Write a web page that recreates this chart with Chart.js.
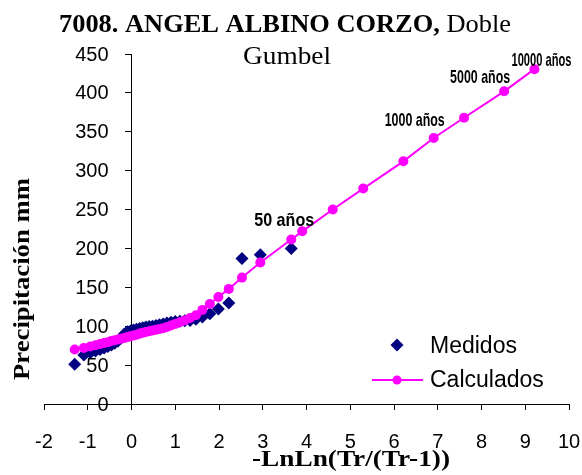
<!DOCTYPE html>
<html><head><meta charset="utf-8">
<script src="https://cdn.jsdelivr.net/npm/chart.js@4"></script>
<style>html,body{margin:0;padding:0;background:#fff;}canvas{display:block}</style>
</head><body>
<canvas id="c" width="582" height="475"></canvas>
<script>
// ---- text ----
const titleBold = '7008. ANGEL ALBINO CORZO,';
const titleRegular = ' Doble';
const titleLine2 = 'Gumbel';
const xAxisTitle = '-LnLn(Tr/(Tr-1))';
const yAxisTitle = 'Precipitación mm';
const seriesNames = ['Medidos', 'Calculados'];

// ---- ticks ----
const xTickValues = [-2, -1, 0, 1, 2, 3, 4, 5, 6, 7, 8, 9, 10];
const yTickValues = [0, 50, 100, 150, 200, 250, 300, 350, 400, 450];

// ---- measured series (reduced variate, precipitation mm) ----
const xMeasured = [-1.298, -1.089, -0.942, -0.823, -0.720, -0.627, -0.541, -0.460, -0.383, -0.308,
  -0.236, -0.164, -0.094, -0.024, 0.046, 0.115, 0.186, 0.257, 0.330, 0.404,
  0.480, 0.558, 0.639, 0.723, 0.810, 0.903, 1.000, 1.105, 1.217, 1.338,
  1.472, 1.620, 1.790, 1.986, 2.224, 2.525, 2.944, 3.651];
const yMeasured = [51, 63, 66, 68, 70, 72, 74, 76, 78, 81,
  85, 90, 93, 94, 95, 96, 97, 98, 99, 99.5,
  100, 101, 102, 103, 104, 105, 106, 106.5, 107, 107.5,
  109, 112, 116, 122, 130, 187, 192, 200];

// ---- calculated series ----
const xCalculated = [-1.298, -1.089, -0.942, -0.823, -0.720, -0.627, -0.541, -0.460, -0.383, -0.308,
  -0.236, -0.164, -0.094, -0.024, 0.046, 0.115, 0.186, 0.257, 0.330, 0.404,
  0.480, 0.558, 0.639, 0.723, 0.810, 0.903, 1.000, 1.105, 1.217, 1.338,
  1.472, 1.620, 1.790, 1.986, 2.224, 2.525, 2.944, 3.651,
  3.902, 4.600, 5.296, 6.214, 6.907, 7.601, 8.517, 9.210];
const yCalculated = [70, 72, 74, 75.5, 77, 78.5, 79.5, 81, 82, 83,
  84, 85, 86, 87, 88, 89, 90.5, 91.5, 92.5, 93.5,
  94.5, 95.5, 96.5, 97.5, 99, 101, 103, 105, 107.5, 110.5,
  114, 121, 128.5, 137.5, 148, 162.5, 182, 211.5,
  222, 250, 277, 312, 342, 368, 402, 430.5];

// ---- return period annotations ----
const returnPeriodText = ['50 años', '1000 años', '5000 años', '10000 años'];
const returnPeriodX = [3.902, 6.907, 8.517, 9.210];

// ---------------------------------------------------------------
const NAVY = '#000080', MAGENTA = '#FF00FF';
const labelOffsets = [[-18, -11], [-19, -17], [-24, -13.5], [7, -8.5]];

function fitText(ctx, text, x, y, font, width, align, baseline, rot) {
  ctx.save();
  ctx.font = font;
  const w = ctx.measureText(text).width;
  ctx.translate(x, y);
  if (rot) ctx.rotate(rot);
  ctx.scale(width / w, 1);
  ctx.textAlign = align;
  ctx.textBaseline = baseline;
  ctx.fillStyle = '#000';
  ctx.fillText(text, 0, 0);
  ctx.restore();
}

const decor = {
  id: 'decor',
  afterDraw(chart) {
    const ctx = chart.ctx;
    const xs = chart.scales.x, ys = chart.scales.y;
    // title
    ctx.save();
    ctx.font = 'bold 26px "Liberation Serif"';
    const wb = ctx.measureText(titleBold).width;
    ctx.font = '26px "Liberation Serif"';
    const wr = ctx.measureText(titleRegular).width;
    const s = 452 / (wb + wr);
    ctx.translate(59, 32);
    ctx.scale(s, 1);
    ctx.fillStyle = '#000';
    ctx.textAlign = 'left';
    ctx.textBaseline = 'alphabetic';
    ctx.font = 'bold 26px "Liberation Serif"';
    ctx.fillText(titleBold, 0, 0);
    ctx.font = '26px "Liberation Serif"';
    ctx.fillText(titleRegular, wb, 0);
    ctx.restore();
    fitText(ctx, titleLine2, 287, 64, '26px "Liberation Serif"', 88, 'center', 'alphabetic');

    // axis titles
    fitText(ctx, yAxisTitle, 23, 279, 'bold 23px "Liberation Serif"', 202, 'center', 'middle', -Math.PI / 2);
    fitText(ctx, xAxisTitle, 351, 460, 'bold 23px "Liberation Serif"', 198, 'center', 'middle');

    // tick labels
    ctx.save();
    ctx.font = '20px "Liberation Sans"';
    ctx.fillStyle = '#000';
    ctx.textBaseline = 'middle';
    ctx.textAlign = 'right';
    const ax = xs.getPixelForValue(0);
    yTickValues.forEach(v => ctx.fillText(String(v), ax - 23, ys.getPixelForValue(v) + 1));
    ctx.textAlign = 'center';
    const ay = ys.getPixelForValue(0);
    xTickValues.forEach(v => ctx.fillText(String(v), xs.getPixelForValue(v), ay + 38));
    ctx.restore();

    // return period labels
    returnPeriodText.forEach((t, i) => {
      const idx = xCalculated.indexOf(returnPeriodX[i]);
      const px = xs.getPixelForValue(xCalculated[idx]);
      const py = ys.getPixelForValue(yCalculated[idx]);
      fitText(ctx, t, px + labelOffsets[i][0], py + labelOffsets[i][1], 'bold 19px "Liberation Sans"', 60, 'center', 'middle');
    });

    // legend
    ctx.save();
    ctx.fillStyle = NAVY;
    ctx.beginPath();
    ctx.moveTo(397, 338.5); ctx.lineTo(403.5, 345); ctx.lineTo(397, 351.5); ctx.lineTo(390.5, 345);
    ctx.closePath(); ctx.fill();
    ctx.strokeStyle = MAGENTA; ctx.lineWidth = 2;
    ctx.beginPath(); ctx.moveTo(372, 380); ctx.lineTo(423, 380); ctx.stroke();
    ctx.fillStyle = MAGENTA;
    ctx.beginPath(); ctx.arc(397, 380, 4.5, 0, Math.PI * 2); ctx.fill();
    ctx.fillStyle = '#000';
    ctx.font = '23px "Liberation Sans"';
    ctx.textAlign = 'left'; ctx.textBaseline = 'alphabetic';
    ctx.fillText(seriesNames[0], 430, 353);
    ctx.fillText(seriesNames[1], 430, 387);
    ctx.restore();
  }
};

const ticksFrom = arr => scale => { scale.ticks = arr.map(v => ({ value: v })); };

new Chart(document.getElementById('c'), {
  type: 'scatter',
  data: {
    datasets: [
      {
        label: seriesNames[1],
        data: xCalculated.map((x, i) => ({ x, y: yCalculated[i] })),
        showLine: true,
        borderColor: MAGENTA,
        backgroundColor: MAGENTA,
        borderWidth: 2,
        pointStyle: 'circle',
        pointRadius: 5,
        pointBorderWidth: 0,
        tension: 0,
        order: 0,
        clip: false
      },
      {
        label: seriesNames[0],
        data: xMeasured.map((x, i) => ({ x, y: yMeasured[i] })),
        showLine: false,
        borderColor: NAVY,
        backgroundColor: NAVY,
        pointStyle: 'rectRot',
        pointRadius: 6.5,
        pointBorderWidth: 0,
        order: 1,
        clip: false
      }
    ]
  },
  options: {
    responsive: false,
    animation: false,
    devicePixelRatio: 1,
    layout: { padding: { left: 44, right: 13, top: 54, bottom: 65 } },
    plugins: { legend: { display: false }, tooltip: { enabled: false }, title: { display: false } },
    scales: {
      x: {
        type: 'linear', min: -2, max: 10, position: 'bottom',
        afterBuildTicks: ticksFrom(xTickValues),
        grid: { drawOnChartArea: false, drawTicks: true, tickLength: 6, color: '#000' },
        border: { display: true, color: '#000', width: 1 },
        ticks: { display: false }
      },
      y: {
        type: 'linear', min: 0, max: 450, position: { x: 0 },
        afterBuildTicks: ticksFrom(yTickValues),
        grid: { drawOnChartArea: false, drawTicks: true, tickLength: 6, color: '#000' },
        border: { display: true, color: '#000', width: 1 },
        ticks: { display: false }
      }
    }
  },
  plugins: [decor]
});
</script>
</body></html>
